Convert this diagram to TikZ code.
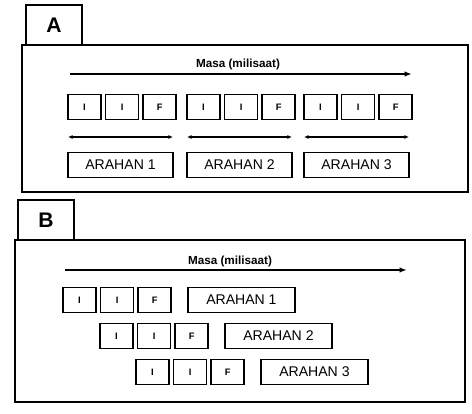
\documentclass[tikz,border=0pt]{standalone}
\usepackage{fontspec}
\setmainfont{Liberation Sans}
\usepackage{tikz}
\usetikzlibrary{positioning, arrows.meta}
\tikzset{
    panelframe/.style={draw=black, line width=2pt},
    tabbox/.style={draw=black, line width=1.6pt, minimum width=1.68cm, minimum height=1.2cm, font=\fontsize{18}{20}\selectfont\bfseries, inner sep=0pt},
    cellbox/.style={draw=black, line width=1.4pt, minimum width=0.99cm, minimum height=0.75cm, inner sep=0pt, font=\fontsize{8}{9}\selectfont\bfseries},
    aimbox/.style={draw=black, line width=1.4pt, minimum height=0.75cm, inner sep=0pt, font=\fontsize{12}{14}\selectfont},
    timearrow/.style={-{Latex[length=2.2mm, width=1.6mm]}, line width=1.3pt},
    spanarrow/.style={{Latex[length=1.4mm, width=1.2mm]}-{Latex[length=1.4mm, width=1.2mm]}, line width=1.1pt},
    timelabel/.style={font=\fontsize{10}{12}\selectfont\bfseries, inner sep=1pt}
}
\begin{document}
\begin{tikzpicture}[x=0.03cm, y=-0.03cm]
    \useasboundingbox (0,0) rectangle (472,413);
    % panel A
    \draw[panelframe] (22,45) rectangle (468,192);
    \node[tabbox] (tabA) at (54,25) {A};
    \coordinate (tA1) at (70,74);
    \coordinate (tA2) at (412,74);
    \draw[timearrow] (tA1) -- (tA2);
    \node[timelabel] (masaA) at (238,64) {Masa (milisaat)};
    \foreach \g/\xx in {1/68,2/187,3/304} {
        \node[cellbox] (a\g i) at (\xx+16.5,107) {I};
        \node[cellbox, right=0.09cm of a\g i] (a\g ii) {I};
        \node[cellbox, right=0.09cm of a\g ii] (a\g f) {F};
        \coordinate (a\g l) at (\xx,137);
        \coordinate (a\g r) at (\xx+105,137);
        \draw[spanarrow] (a\g l) -- (a\g r);
        \node[aimbox, minimum width=3.15cm] (a\g aim) at (\xx+52.5,165) {ARAHAN \g};
    }
    % panel B
    \draw[panelframe] (15,240) rectangle (465,402);
    \node[tabbox] (tabB) at (46,220) {B};
    \coordinate (tB1) at (65,270);
    \coordinate (tB2) at (407,270);
    \draw[timearrow] (tB1) -- (tB2);
    \node[timelabel] (masaB) at (230,261) {Masa (milisaat)};
    \foreach \g/\xx/\yy in {1/63/300,2/100/336,3/136/372} {
        \node[cellbox] (b\g i) at (\xx+16.5,\yy) {I};
        \node[cellbox, right=0.09cm of b\g i] (b\g ii) {I};
        \node[cellbox, right=0.09cm of b\g ii] (b\g f) {F};
        \node[aimbox, minimum width=3.21cm, right=0.45cm of b\g f] (b\g aim) {ARAHAN \g};
    }
\end{tikzpicture}
\end{document}
